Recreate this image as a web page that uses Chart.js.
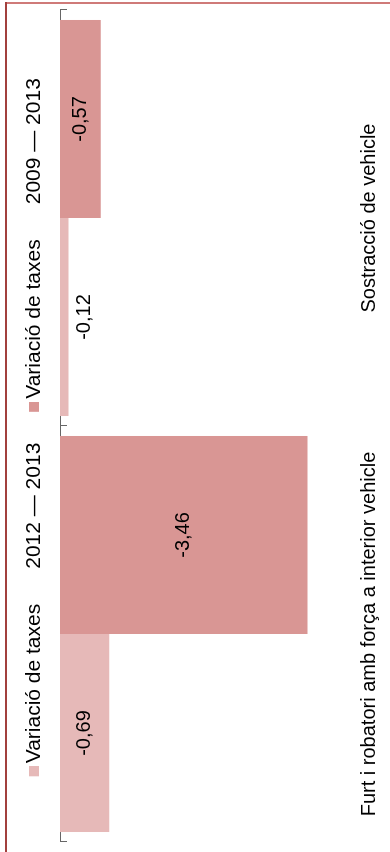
<!DOCTYPE html>
<html>
<head>
<meta charset="utf-8">
<script src="https://cdn.jsdelivr.net/npm/chart.js@4/dist/chart.umd.min.js"></script>
<style>
  html, body { margin: 0; padding: 0; background: #fff; overflow: hidden; width: 390px; height: 852px; }
  #wrap { position: absolute; left: 0; top: 0; width: 852px; height: 390px; transform-origin: 0 0; transform: translateY(852px) rotate(-90deg); }
  #c { display: block; width: 852px; height: 390px; }
  .bl { position: absolute; left: 5px; top: 2px; width: 2px; height: 850px; background: #a2403d; }
  .bt { position: absolute; left: 5px; top: 2px; width: 385px; height: 2px; background: #cf7a78; }
</style>
</head>
<body>
<div id="wrap"><canvas id="c" width="852" height="390"></canvas></div>
<div class="bt"></div>
<div class="bl"></div>
<script>
// Data
const categories = ["Furt i robatori amb força a interior vehicle", "Sostracció de vehicle"];
const seriesNames = ["Variació de taxes      2012 — 2013    ", "Variació de taxes      2009 — 2013"];
const rate2012_2013 = [-0.69, -0.12];
const rate2009_2013 = [-3.46, -0.57];
const seriesColors = ['#E6B9B8', '#D99694'];

const FONT = '"Liberation Sans", Arial, sans-serif';
Chart.defaults.font.family = FONT;
Chart.defaults.color = '#000';

const fmt = v => v.toFixed(2).replace('.', ',');

// legend swatch: 10x10 square placed at the right side of a 15px-wide canvas
function swatch(color) {
  const c = document.createElement('canvas');
  c.width = 15; c.height = 10;
  const g = c.getContext('2d');
  g.fillStyle = color;
  g.fillRect(5, 0, 10, 10);
  return c;
}

const valueLabels = {
  id: 'valueLabels',
  afterDatasetsDraw(chart) {
    const ctx = chart.ctx;
    ctx.save();
    ctx.font = '20px ' + FONT;
    ctx.fillStyle = '#000';
    ctx.textAlign = 'center';
    ctx.textBaseline = 'middle';
    chart.data.datasets.forEach((ds, di) => {
      const meta = chart.getDatasetMeta(di);
      meta.data.forEach((bar, i) => {
        const p = bar.getProps(['x', 'y', 'base'], true);
        const len = Math.abs(p.y - p.base);
        const ty = len > 30 ? (p.y + p.base) / 2 : p.y + 16;
        ctx.fillText(fmt(ds.data[i]), p.x, ty);
      });
    });
    ctx.restore();
  }
};

new Chart(document.getElementById('c'), {
  type: 'bar',
  data: {
    labels: categories,
    datasets: [
      { label: seriesNames[0], data: rate2012_2013, backgroundColor: seriesColors[0], borderWidth: 0 },
      { label: seriesNames[1], data: rate2009_2013, backgroundColor: seriesColors[1], borderWidth: 0 }
    ]
  },
  options: {
    responsive: false,
    devicePixelRatio: 1,
    animation: false,
    layout: { padding: { top: 13.5, bottom: 0, left: 10, right: 10 } },
    datasets: { bar: { categoryPercentage: 0.952, barPercentage: 1 } },
    plugins: {
      legend: {
        position: 'top',
        labels: {
          usePointStyle: true,
          pointStyleWidth: 0.01,
          boxHeight: 10,
          padding: 10,
          color: '#000',
          font: { size: 21 },
          generateLabels: chart => Chart.defaults.plugins.legend.labels.generateLabels(chart)
            .map((it, i) => Object.assign(it, { pointStyle: swatch(seriesColors[i]) }))
        }
      },
      tooltip: { enabled: false }
    },
    scales: {
      x: {
        position: 'bottom',
        offset: true,
        grid: { display: false, drawTicks: false },
        border: { display: false },
        ticks: { color: '#000', font: { size: 20 }, padding: 11, maxRotation: 0, autoSkip: false },
        afterFit: s => { s.height = 44; }
      },
      x2: {
        axis: 'x',
        type: 'category',
        position: 'top',
        offset: true,
        grid: { display: true, offset: true, drawOnChartArea: false, drawTicks: true, tickLength: -7, color: '#666', lineWidth: 1 },
        border: { display: true, color: '#666', width: 1 },
        ticks: { display: false },
        afterFit: s => { s.height = 5.5; }
      },
      y: {
        display: false,
        min: -4,
        max: 0
      }
    }
  },
  plugins: [valueLabels]
});
</script>
</body>
</html>
